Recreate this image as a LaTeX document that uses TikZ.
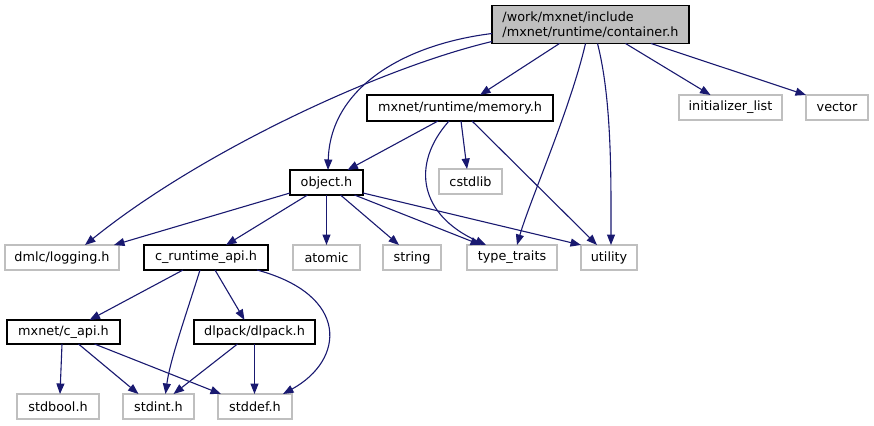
\documentclass[tikz,border=0pt]{standalone}
\usepackage{fontspec}
\setmainfont{DejaVu Sans}
\usetikzlibrary{arrows.meta,calc}
\definecolor{edgeblue}{HTML}{191970}
\definecolor{boxgray}{HTML}{BFBFBF}
\begin{document}
\begin{tikzpicture}[x=1pt,y=-1pt,
  every node/.style={font=\fontsize{12.8}{15}\selectfont, inner sep=0pt, outer sep=0pt, anchor=center},
  docbox/.style={draw=black, line width=1.3pt, fill=white},
  sysbox/.style={draw=boxgray, line width=1.3pt, fill=white},
  mainbox/.style={draw=black, line width=1.3pt, fill=boxgray, align=left},
  dep/.style={draw=edgeblue, line width=1.1pt, -{Triangle[length=10.5pt,width=8pt]}}]
\useasboundingbox (0,0) rectangle (874,425);
% nodes
\node[mainbox, minimum width=197pt, minimum height=38pt] (cont) at (590.5,24.5) {/work/mxnet/include\\/mxnet/runtime/container.h};
\node[docbox, minimum width=186pt, minimum height=26pt] (mem) at (460,108) {mxnet/runtime/memory.h};
\node[sysbox, minimum width=63pt, minimum height=25pt] (cstd) at (470.5,181.5) {cstdlib};
\node[docbox, minimum width=73pt, minimum height=25pt] (obj) at (326.5,182.5) {object.h};
\node[sysbox, minimum width=114pt, minimum height=25pt] (log) at (62,257.5) {dmlc/logging.h};
\node[docbox, minimum width=124pt, minimum height=25pt] (crt) at (206,257.5) {c\_runtime\_api.h};
\node[sysbox, minimum width=67pt, minimum height=25pt] (atom) at (326.5,257.5) {atomic};
\node[sysbox, minimum width=58pt, minimum height=25pt] (str) at (412,257.5) {string};
\node[sysbox, minimum width=90pt, minimum height=25pt] (tt) at (512,257.5) {type\_traits};
\node[sysbox, minimum width=56pt, minimum height=25pt] (util) at (609,257.5) {utility};
\node[docbox, minimum width=113pt, minimum height=24pt] (capi) at (63.5,332) {mxnet/c\_api.h};
\node[docbox, minimum width=121pt, minimum height=24pt] (dlp) at (254.5,332) {dlpack/dlpack.h};
\node[sysbox, minimum width=82pt, minimum height=25pt] (sbool) at (58,406.5) {stdbool.h};
\node[sysbox, minimum width=71pt, minimum height=25pt] (sint) at (158.5,406.5) {stdint.h};
\node[sysbox, minimum width=74pt, minimum height=25pt] (sdef) at (255,406.5) {stddef.h};
\node[sysbox, minimum width=103pt, minimum height=25pt] (init) at (730.5,107.5) {initializer\_list};
\node[sysbox, minimum width=62pt, minimum height=25pt] (vec) at (837,107.5) {vector};
% edges from container.h
\draw[dep] ($(cont.west)+(0,9)$) .. controls (400,45) and (330,90) .. ($(obj.north)+(1.5,0)$);
\draw[dep] ($(cont.south west)+(0,-2)$) .. controls (380,68) and (200,152) .. ($(log.north)+(23,0)$);
\draw[dep] ($(cont.south)+(-31,0)$) -- ($(mem.north)+(20,0)$);
\draw[dep] ($(cont.south)+(-5,0)$) .. controls (570,110) and (530,200) .. ($(tt.north)+(5,0)$);
\draw[dep] ($(cont.south)+(7,0)$) .. controls (612,100) and (611,180) .. ($(util.north)+(2,0)$);
\draw[dep] ($(cont.south)+(35,0)$) -- ($(init.north)+(-20,0)$);
\draw[dep] ($(cont.south east)+(-38,0)$) -- (vec.north west);
% edges from memory.h
\draw[dep] ($(mem.south)+(-22,0)$) -- ($(obj.north)+(21,0)$);
\draw[dep] ($(mem.south)+(1,0)$) -- ($(cstd.north)+(-3.5,0)$);
\draw[dep] ($(mem.south)+(-11,0)$) .. controls (410,165) and (420,215) .. ($(tt.north)+(-26,0)$);
\draw[dep] ($(mem.south)+(12,0)$) -- ($(util.north)+(-12,0)$);
% edges from object.h
\draw[dep] ($(obj.south west)+(0,-2)$) -- ($(log.north east)+(-5,0)$);
\draw[dep] ($(obj.south)+(-19,0)$) -- ($(crt.north)+(20,0)$);
\draw[dep] (obj.south) -- (atom.north);
\draw[dep] ($(obj.south)+(14,0)$) -- ($(str.north)+(-13,0)$);
\draw[dep] ($(obj.south)+(28,0)$) -- ($(tt.north)+(-31,0)$);
\draw[dep] ($(obj.south east)+(0,-2)$) -- (util.north west);
% edges from c_runtime_api.h
\draw[dep] ($(crt.south)+(-23,0)$) -- ($(capi.north)+(26,0)$);
\draw[dep] ($(crt.south)+(-6,0)$) .. controls (186,315) and (170,360) .. ($(sint.north)+(7,0)$);
\draw[dep] ($(crt.south)+(9,0)$) -- ($(dlp.north)+(-10,0)$);
\draw[dep] ($(crt.south)+(51,0)$) .. controls (350,295) and (345,360) .. ($(sdef.north)+(28,0)$);
% edges from mxnet/c_api.h
\draw[dep] ($(capi.south)+(-1.5,0)$) -- ($(sbool.north)+(2,0)$);
\draw[dep] ($(capi.south)+(15,0)$) -- ($(sint.north)+(-20,0)$);
\draw[dep] ($(capi.south)+(31,0)$) -- ($(sdef.north west)+(3,0)$);
% edges from dlpack.h
\draw[dep] ($(dlp.south)+(-17,0)$) -- ($(sint.north)+(15,0)$);
\draw[dep] (dlp.south) -- (dlp.south |- sdef.north);
\end{tikzpicture}
\end{document}
